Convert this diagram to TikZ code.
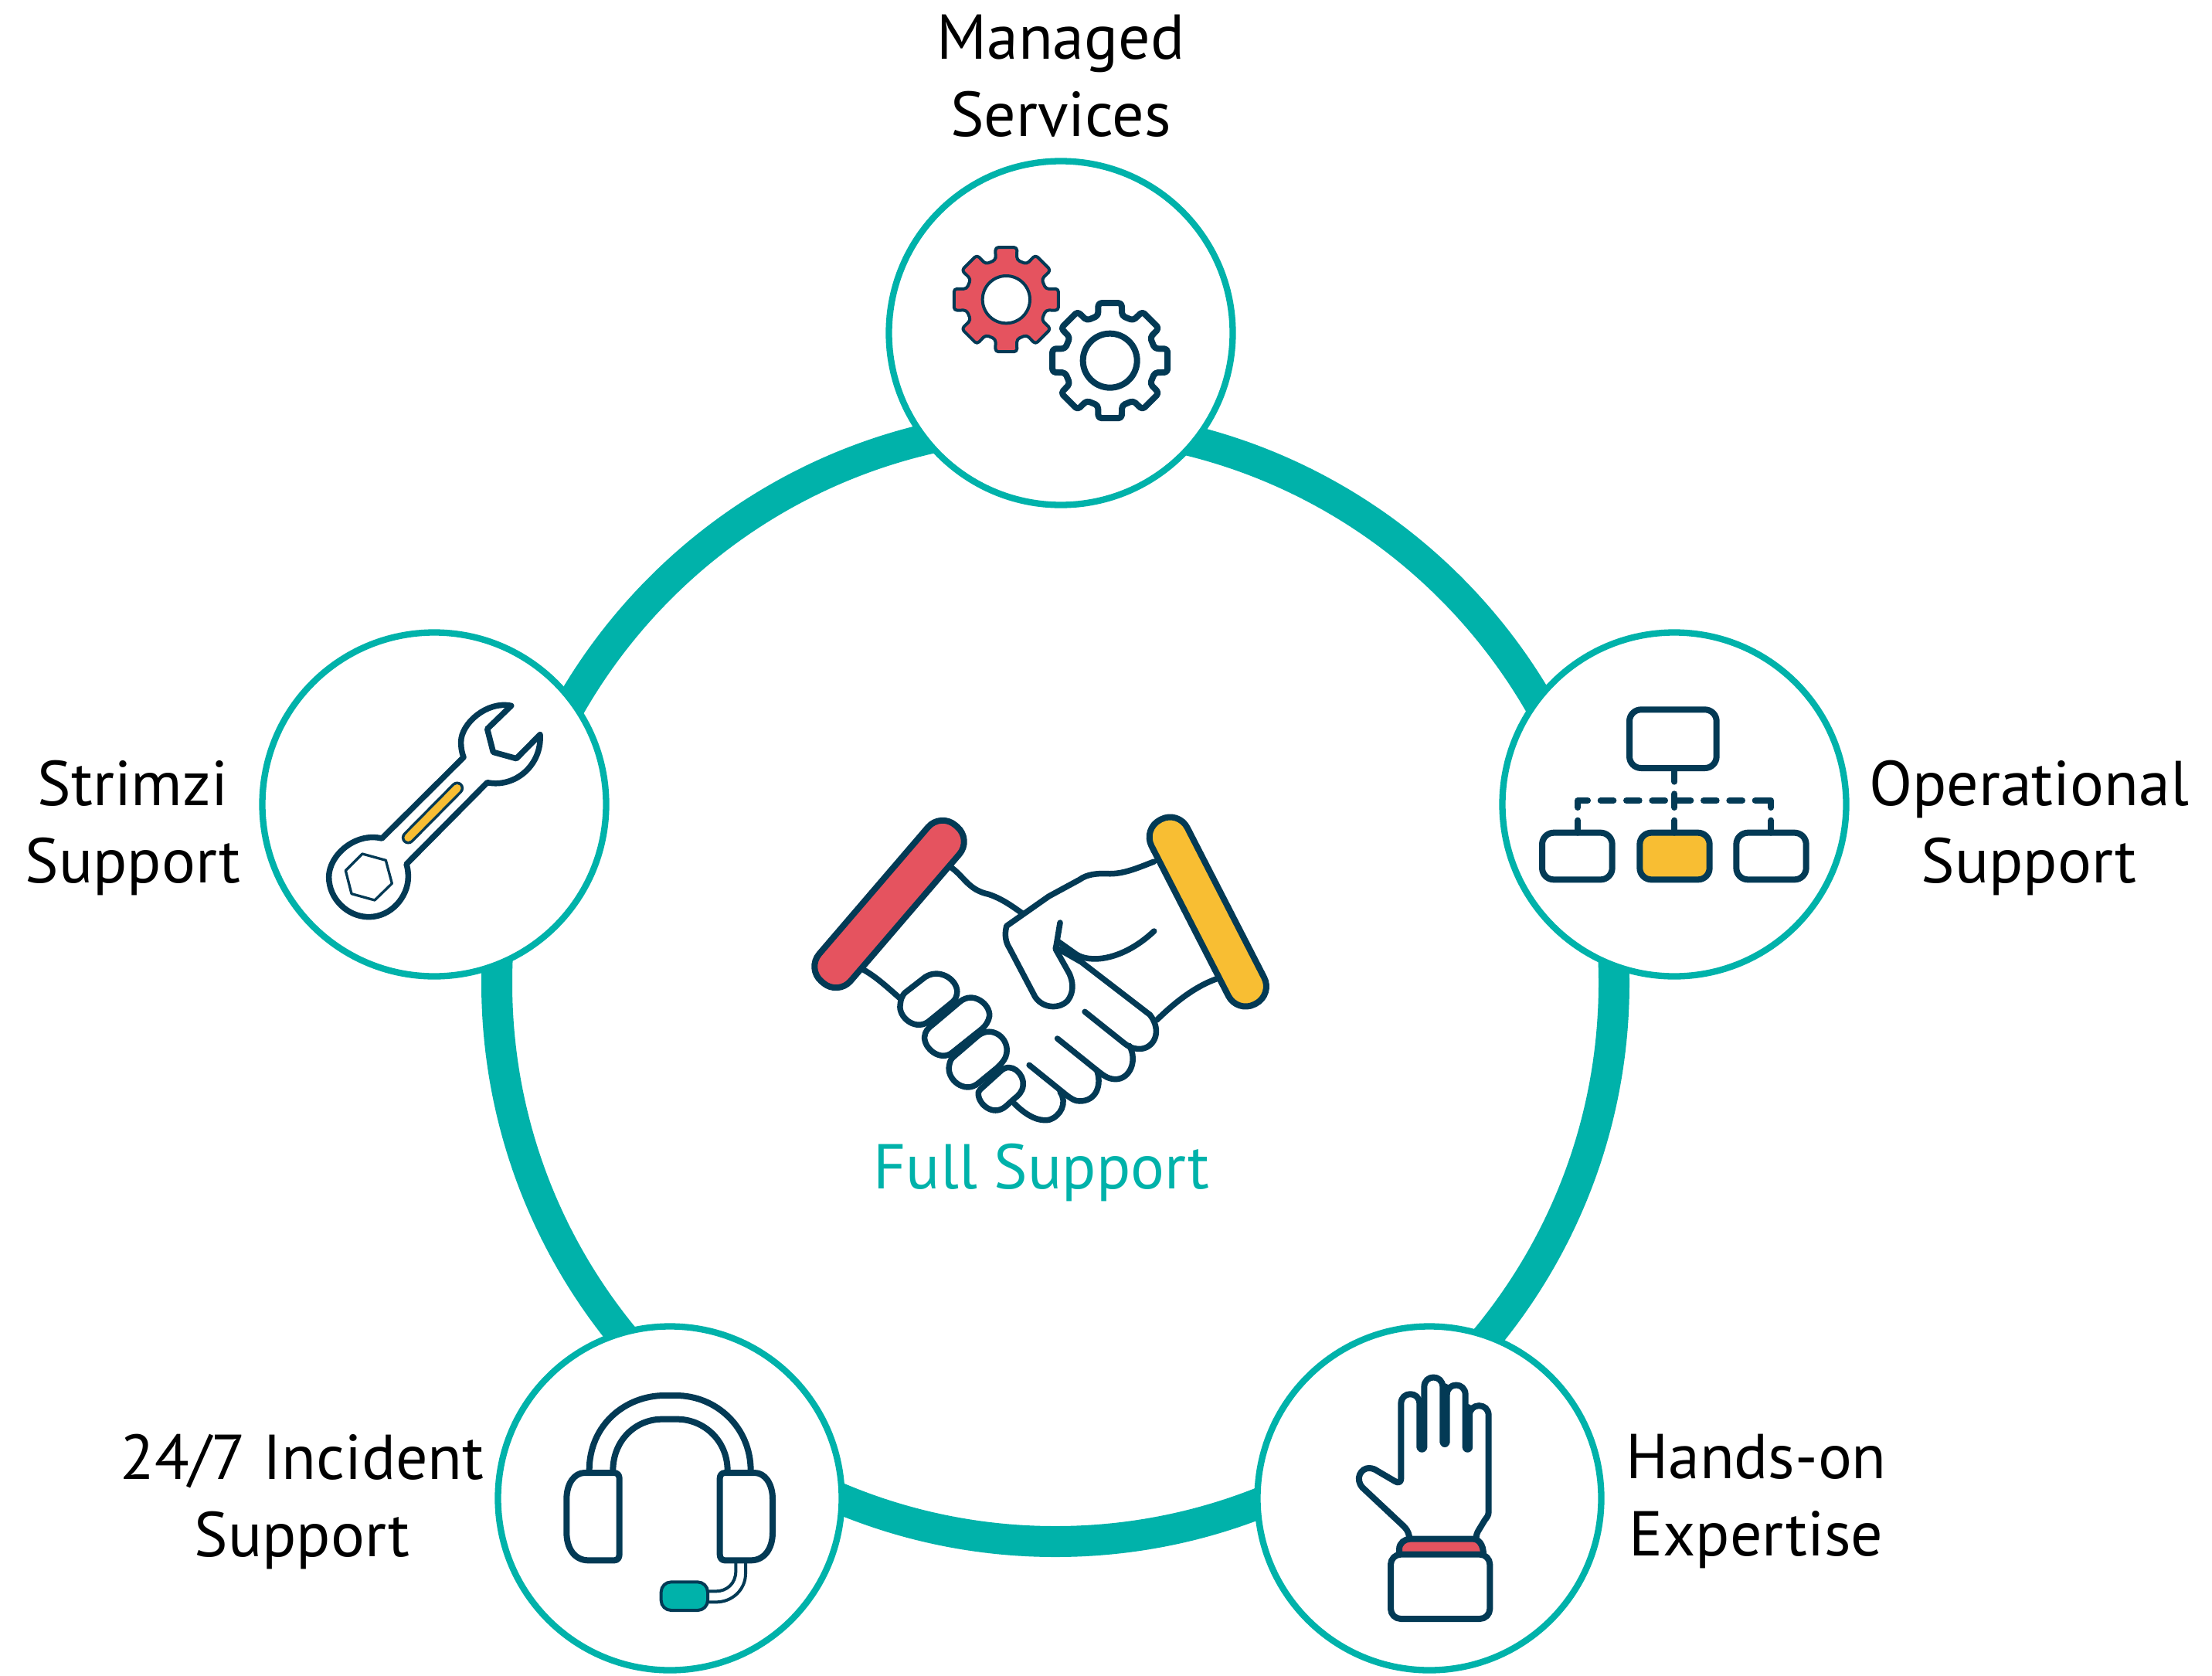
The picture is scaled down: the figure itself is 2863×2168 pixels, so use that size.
\documentclass[tikz,border=0pt]{standalone}
\usepackage{fontspec}
\setmainfont{PT Sans}
\definecolor{dk}{HTML}{033A55}
\definecolor{tl}{HTML}{00B2AA}
\definecolor{rd}{HTML}{E5535F}
\definecolor{yl}{HTML}{F8BE33}
\tikzset{
  bubble/.style={circle,draw=tl,line width=8.3pt,fill=white,minimum size=445pt,inner sep=0pt},
  lbl/.style={align=center,font=\fontsize{82}{100}\selectfont,text=black,inner sep=0pt},
  ink/.style={draw=dk,line join=round,line cap=round},
  thin/.style={ink,line width=4pt},
  mid/.style={ink,line width=7.5pt},
  fat/.style={ink,line width=8pt},
}
\newcommand{\gearpath}[4]{% r1 d1 r2 d2
  (-90-#2:#1) \foreach \a in {-90,-45,...,225} {-- (\a-#2:#1) -- (\a-#4:#3) -- (\a+#4:#3) -- (\a+#2:#1)} -- cycle}
\begin{document}
\begin{tikzpicture}[x=1pt,y=-1pt]
\useasboundingbox (0,0) rectangle (2863,2168);
\fill[white] (0,0) rectangle (2863,2168);
\coordinate (ringc) at (1366,1272);
\draw[tl,line width=40pt] (ringc) circle[radius=723];
\node[bubble] (ms) at (1373,431) {};
\node[bubble] (op) at (2167,1041) {};
\node[bubble] (st) at (562,1041) {};
\node[bubble] (inc) at (867,1939) {};
\node[bubble] (hand) at (1850,1939) {};
\node[lbl] (lms) at (1373,98) {Managed\\Services};
\node[lbl] (lop) at (2626,1071) {Operational\\Support};
\node[lbl] (lst) at (172,1071) {Strimzi\\Support};
\node[lbl] (linc) at (391,1943) {24/7 Incident\\Support};
\node[lbl] (lhand) at (2273,1943) {Hands-on\\Expertise};
\node[lbl,text=tl] (lfull) at (1348,1517) {Full Support};
% handshake
\begin{scope}[shift={(1000,1020)},xscale=0.444,yscale=1/3]
\draw[mid] (518,305) .. controls (560,345) and (570,395) .. (630,412) .. controls (670,430) and (700,460) .. (730,488);
\draw[mid] (265,705) .. controls (305,735) and (340,780) .. (375,820);
\draw[mid] (1112,285) .. controls (1060,312) and (1020,335) .. (975,332) .. controls (945,330) and (915,335) .. (895,355) -- (805,420) -- (682,535) .. controls (675,570) and (680,600) .. (690,620) -- (765,810) .. controls (790,860) and (840,855) .. (860,825) .. controls (880,790) and (875,750) .. (865,720) -- (825,625) -- (838,522);
\draw[mid] (832,595) -- (885,645) .. controls (925,680) and (1020,670) .. (1112,555);
\draw[mid] (825,618) -- (900,675) -- (1100,880) .. controls (1135,940) and (1115,1005) .. (1075,1012) .. controls (1045,1015) and (1030,995) .. (1020,985) -- (910,868);
\draw[mid] (1040,1000) .. controls (1065,1060) and (1040,1130) .. (1000,1130) .. controls (975,1130) and (960,1110) .. (945,1095) -- (830,972);
\draw[mid] (945,1095) .. controls (960,1150) and (945,1215) .. (895,1215) .. controls (880,1215) and (870,1205) .. (855,1190) -- (748,1075);
\draw[mid] (838,1180) .. controls (860,1220) and (840,1275) .. (805,1288) .. controls (770,1295) and (735,1265) .. (705,1225);
\draw[mid] (1120,900) .. controls (1170,835) and (1230,770) .. (1295,740);
\draw[mid,fill=white] (605,1170) -- (665,1098) .. controls (695,1060) and (735,1110) .. (730,1155) .. controls (728,1180) and (715,1195) .. (705,1205) -- (680,1235) .. controls (640,1280) and (595,1220) .. (600,1180) -- cycle;
\draw[mid,fill=white] (530,1040) -- (600,960) .. controls (640,920) and (690,970) .. (682,1030) .. controls (680,1050) and (670,1065) .. (655,1085) -- (600,1145) .. controls (560,1190) and (505,1130) .. (515,1075) .. controls (517,1060) and (520,1050) .. cycle;
\draw[mid,fill=white] (465,920) -- (545,830) .. controls (585,785) and (635,840) .. (632,885) .. controls (630,905) and (620,925) .. (605,940) -- (525,1025) .. controls (490,1065) and (440,1010) .. (443,965) .. controls (445,945) and (450,935) .. cycle;
\draw[mid,fill=white] (385,795) -- (445,733) .. controls (490,695) and (545,750) .. (537,800) .. controls (535,815) and (530,825) .. (520,835) -- (460,900) .. controls (420,950) and (365,890) .. (372,840) .. controls (373,820) and (378,805) .. cycle;
\end{scope}
\draw[fat,fill=rd,rounded corners=25pt] (1217.4,1051.5) -- (1258,1086.5) -- (1084.6,1288.5) -- (1044,1253.5) -- cycle;
\draw[fat,fill=yl,rounded corners=25pt] (1479,1072.6) -- (1525.2,1048.8) -- (1647.6,1287.4) -- (1601.4,1311.2) -- cycle;
% gears
\begin{scope}[shift={(1200,290)},scale=1/3]
\begin{scope}[shift={(307,293)}]
\draw[thin,fill=rd,rounded corners=4pt] \gearpath{159}{15}{207}{11.7};
\draw[thin,fill=white] (0,0) circle[radius=92];
\end{scope}
\begin{scope}[shift={(710,530)}]
\draw[fat,fill=white,rounded corners=4pt] \gearpath{180}{15}{228}{11.5};
\draw[fat,fill=white] (0,0) circle[radius=105];
\end{scope}
\end{scope}
% wrench
\begin{scope}[shift={(400,880)},scale=1/3]
\draw[ink,line width=7.5pt,fill=white] (785,100) .. controls (690,80) and (590,170) .. (590,240) .. controls (590,270) and (595,285) .. (600,300) -- (283,615) .. controls (180,590) and (77,680) .. (77,765) .. controls (77,850) and (150,920) .. (232,920) .. controls (320,920) and (385,840) .. (385,765) .. controls (385,740) and (382,728) .. (378,715) -- (692,398) .. controls (800,420) and (905,330) .. (897,212) -- (805,305) -- (715,280) -- (692,190) -- cycle;
\draw[ink,line width=3.3pt] (207,675) -- (298,700) -- (322,790) -- (255,855) -- (165,830) -- (142,740) -- cycle;
\draw[dk,line width=17pt,line cap=round] (575,420) -- (385,612);
\draw[yl,line width=10pt,line cap=round] (575,420) -- (385,612);
\end{scope}
% headset
\begin{scope}[shift={(700,1780)},scale=1/3]
\draw[fat] (188,370) .. controls (188,190) and (330,78) .. (480,78) -- (525,78) .. controls (680,78) and (815,200) .. (815,370);
\draw[fat] (280,370) .. controls (280,250) and (370,170) .. (470,170) -- (530,170) .. controls (630,170) and (725,250) .. (725,370);
\draw[fat,fill=white] (170,378) -- (285,378) .. controls (298,378) and (305,388) .. (305,400) -- (305,695) .. controls (305,708) and (298,718) .. (285,718) -- (185,718) .. controls (130,718) and (100,670) .. (100,610) -- (100,480) .. controls (100,420) and (130,378) .. (170,378) -- cycle;
\draw[fat,fill=white] (830,378) -- (715,378) .. controls (702,378) and (695,388) .. (695,400) -- (695,695) .. controls (695,708) and (702,718) .. (715,718) -- (815,718) .. controls (870,718) and (900,670) .. (900,610) -- (900,480) .. controls (900,420) and (870,378) .. (830,378) -- cycle;
\draw[thin] (757,725) -- (757,760) .. controls (757,810) and (720,838) .. (680,838) -- (650,838);
\draw[thin] (795,725) -- (795,770) .. controls (795,830) and (745,880) .. (680,880) -- (650,880);
\draw[thin,fill=tl,rounded corners=13pt] (467,802) rectangle (648,912);
\end{scope}
% hand
\begin{scope}[shift={(1730,1760)},scale=1/3]
\draw[fat] (282,685) .. controls (278,665) and (270,655) .. (260,645) -- (100,495) .. controls (70,460) and (95,420) .. (125,420) .. controls (140,420) and (150,425) .. (160,432) -- (225,470) .. controls (240,480) and (250,475) .. (250,460) -- (250,170) .. controls (250,120) and (322,120) .. (322,170) -- (322,340);
\draw[fat] (340,340) -- (340,105) .. controls (340,55) and (412,55) .. (412,105) -- (412,320);
\draw[fat] (428,320) -- (428,135) .. controls (428,85) and (500,85) .. (500,135) -- (500,340);
\draw[fat] (516,340) -- (516,215) .. controls (516,165) and (590,165) .. (590,215) -- (590,590) .. controls (590,605) and (582,612) .. (575,622) -- (555,655) .. controls (545,670) and (542,680) .. (542,690);
\draw[dk,line width=12.7pt,line cap=round] (331,170) -- (331,340);
\draw[dk,line width=12.7pt,line cap=round] (420,110) -- (420,320);
\draw[dk,line width=12.7pt,line cap=round] (508,190) -- (508,340);
\draw[fat,fill=rd] (243,755) -- (243,735) .. controls (243,710) and (265,695) .. (285,695) -- (530,695) .. controls (550,695) and (570,715) .. (570,755);
\draw[fat,fill=white,rounded corners=13pt] (210,755) rectangle (595,1005);
\end{scope}
% org chart
\begin{scope}[shift={(1970,890)},scale=1/3]
\draw[fat,fill=white,rounded corners=15pt] (417,85) rectangle (755,312);
\draw[fat,fill=white,rounded corners=15pt] (78,563) rectangle (350,745);
\draw[fat,fill=yl,rounded corners=15pt] (457,563) rectangle (728,745);
\draw[fat,fill=white,rounded corners=15pt] (832,563) rectangle (1103,745);
\draw[fat] (592,312) -- (592,365);
\draw[fat] (592,412) -- (592,465);
\draw[fat] (217,515) -- (217,563);
\draw[fat] (592,515) -- (592,563);
\draw[fat] (967,515) -- (967,563);
\draw[fat] (217,465) -- (217,438) -- (255,438);
\foreach \x in {305,405,505,605,705,805} \draw[fat] (\x,438) -- (\x+50,438);
\draw[fat] (905,438) -- (967,438) -- (967,465);
\end{scope}
\end{tikzpicture}
\end{document}
